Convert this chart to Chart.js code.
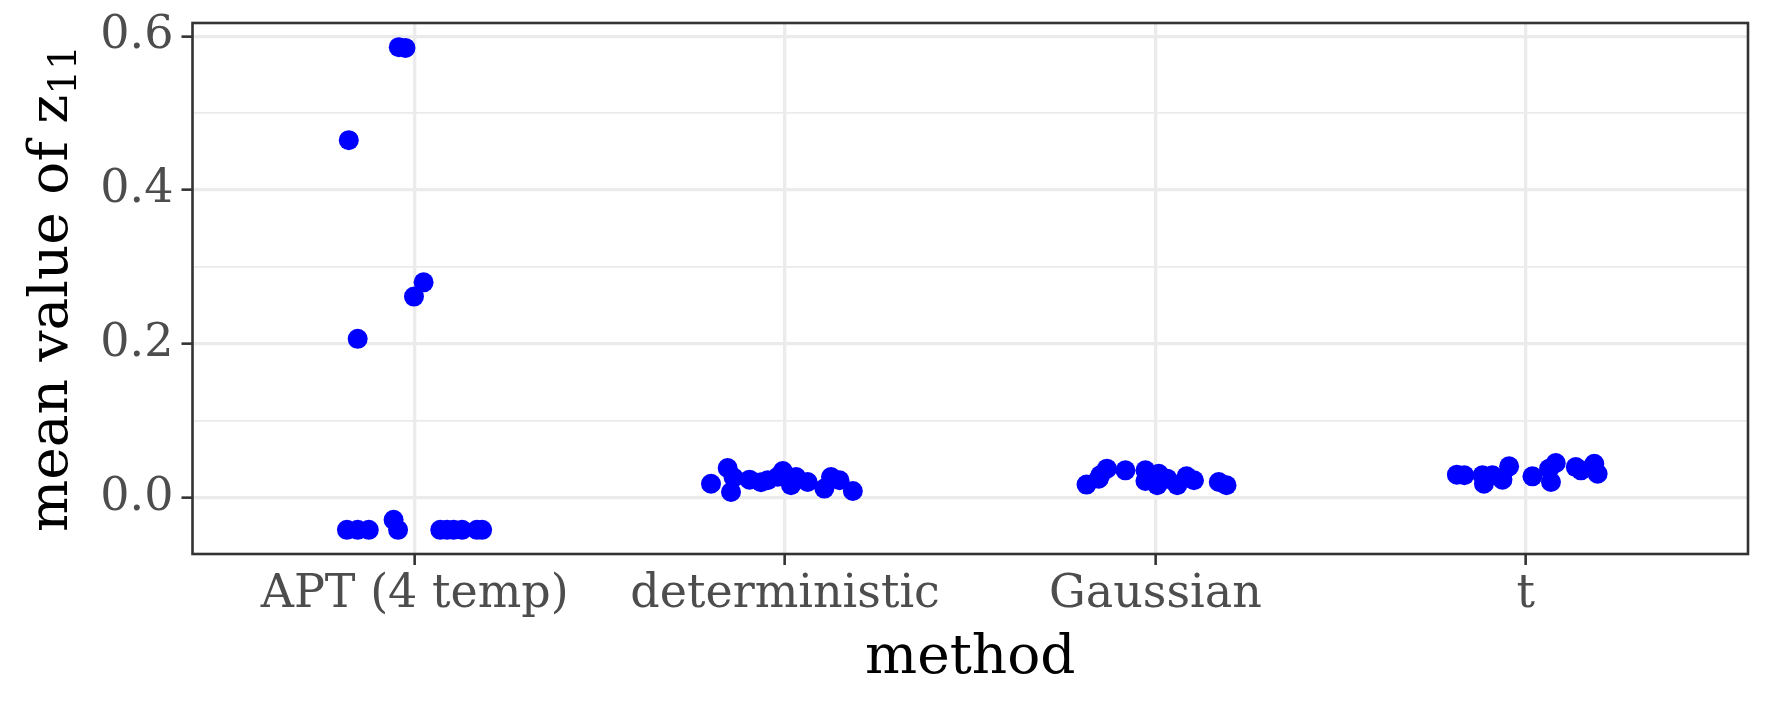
<!DOCTYPE html>
<html>
<head>
<meta charset="utf-8">
<script src="https://cdn.jsdelivr.net/npm/chart.js@4"></script>
<style>
  html, body { margin: 0; padding: 0; background: #fff; }
  canvas { display: block; }
</style>
</head>
<body>
<canvas id="chart" width="1771" height="708"></canvas>
<script>
// ---- data ----
const categories = ['APT (4 temp)', 'deterministic', 'Gaussian', 't'];

// horizontal jitter (offset from category centre) and mean value of z11
const aptJitter = [-0.043, -0.025, -0.178, 0.024, -0.002, -0.154, -0.183, -0.154, -0.124, -0.057, -0.045, 0.069, 0.087, 0.105, 0.128, 0.168, 0.182];
const aptY      = [0.586, 0.585, 0.465, 0.280, 0.2615, 0.2065, -0.042, -0.042, -0.042, -0.029, -0.042, -0.042, -0.042, -0.042, -0.042, -0.042, -0.042];

const detJitter = [-0.200, -0.155, -0.146, -0.139, -0.096, -0.065, -0.047, -0.020, -0.006, 0.016, 0.030, 0.061, 0.106, 0.124, 0.147, 0.183];
const detY      = [0.018, 0.0385, 0.0073, 0.026, 0.0233, 0.020, 0.0225, 0.027, 0.0346, 0.016, 0.0268, 0.0203, 0.0117, 0.0268, 0.0225, 0.0086];

const gauJitter = [-0.186, -0.153, -0.149, -0.131, -0.081, -0.027, -0.027, 0.009, 0.005, 0.032, 0.059, 0.084, 0.104, 0.171, 0.192];
const gauY      = [0.0169, 0.0246, 0.029, 0.0376, 0.0354, 0.0354, 0.0216, 0.031, 0.016, 0.0246, 0.016, 0.0276, 0.0225, 0.0203, 0.016];

const tJitter = [-0.186, -0.166, -0.117, -0.113, -0.090, -0.063, -0.045, 0.018, 0.063, 0.081, 0.068, 0.135, 0.149, 0.185, 0.194];
const tY      = [0.0298, 0.029, 0.029, 0.018, 0.029, 0.0233, 0.0406, 0.0276, 0.0376, 0.045, 0.0203, 0.0397, 0.0354, 0.044, 0.031];

const yTicks = [0, 0.1, 0.2, 0.3, 0.4, 0.5, 0.6];
const yMajor = [0, 0.2, 0.4, 0.6];

// ---- style ----
const FONT = "'DejaVu Serif', 'Liberation Serif', serif";
const GRID = '#EBEBEB';
const DARK = '#333333';
const TICK_TXT = '#4D4D4D';
const BLUE = '#0000FF';

function pts(pos, jitter, ys) {
  return ys.map((y, i) => ({ x: pos + jitter[i], y }));
}

const series = [
  pts(1, aptJitter, aptY),
  pts(2, detJitter, detY),
  pts(3, gauJitter, gauY),
  pts(4, tJitter, tY)
];

// panel border + axis titles (y title has a subscript)
const decor = {
  id: 'decor',
  afterDraw(chart) {
    const { ctx, chartArea: a } = chart;
    ctx.save();
    ctx.strokeStyle = DARK;
    ctx.lineWidth = 2.6;
    ctx.strokeRect(a.left, a.top, a.right - a.left, a.bottom - a.top);

    ctx.fillStyle = '#000';
    ctx.textAlign = 'center';
    ctx.textBaseline = 'alphabetic';
    ctx.font = '55px ' + FONT;
    ctx.fillText('method', (a.left + a.right) / 2, 673);

    // rotated y title, centred on the panel
    const main = 'mean value of z', sub = '11';
    ctx.font = '55px ' + FONT;
    const w1 = ctx.measureText(main).width;
    ctx.font = '39px ' + FONT;
    const w2 = ctx.measureText(sub).width;
    const total = w1 + w2;
    ctx.translate(67, (a.top + a.bottom) / 2);
    ctx.rotate(-Math.PI / 2);
    ctx.textAlign = 'left';
    ctx.font = '55px ' + FONT;
    ctx.fillText(main, -total / 2, 0);
    ctx.font = '39px ' + FONT;
    ctx.fillText(sub, -total / 2 + w1, 9);
    ctx.restore();
  }
};

// keep the panel exactly where the layout padding puts it
function noPad(s) {
  s.paddingTop = 0; s.paddingBottom = 0; s.paddingLeft = 0; s.paddingRight = 0;
}

new Chart(document.getElementById('chart'), {
  type: 'scatter',
  data: {
    datasets: series.map((d, i) => ({
      label: categories[i],
      data: d,
      pointRadius: 10,
      pointHoverRadius: 10,
      pointBackgroundColor: BLUE,
      pointBorderWidth: 0,
      pointBorderColor: BLUE
    }))
  },
  options: {
    responsive: false,
    devicePixelRatio: 1,
    animation: false,
    events: [],
    layout: { padding: { top: 23, right: 23, left: 0, bottom: 0 } },
    plugins: {
      legend: { display: false },
      tooltip: { enabled: false },
      title: { display: false }
    },
    scales: {
      x: {
        type: 'linear',
        min: 0.4,
        max: 4.6,
        afterBuildTicks: s => { s.ticks = categories.map((c, i) => ({ value: i + 1 })); },
        afterFit: s => { s.height = 154; noPad(s); },
        border: { display: false },
        grid: {
          color: GRID,
          lineWidth: 3.3,
          drawTicks: true,
          tickLength: 11,
          tickColor: DARK,
          tickWidth: 2.6
        },
        ticks: {
          color: TICK_TXT,
          font: { family: FONT, size: 46 },
          padding: 2,
          maxRotation: 0,
          autoSkip: false,
          callback: v => categories[Math.round(v) - 1]
        }
      },
      y: {
        type: 'linear',
        min: -0.0734,
        max: 0.6174,
        afterBuildTicks: s => { s.ticks = yTicks.map(v => ({ value: v })); },
        afterFit: s => { s.width = 192.5; noPad(s); },
        border: { display: false },
        grid: {
          color: GRID,
          lineWidth: c => yMajor.includes(c.tick && c.tick.value) ? 3.3 : 1.7,
          drawTicks: true,
          tickLength: 11,
          tickColor: c => yMajor.includes(c.tick && c.tick.value) ? DARK : 'rgba(0,0,0,0)',
          tickWidth: 2.6
        },
        ticks: {
          color: TICK_TXT,
          font: { family: FONT, size: 46 },
          padding: 8,
          autoSkip: false,
          callback: v => yMajor.includes(v) ? v.toFixed(1) : ''
        }
      }
    }
  },
  plugins: [decor]
});
</script>
</body>
</html>
